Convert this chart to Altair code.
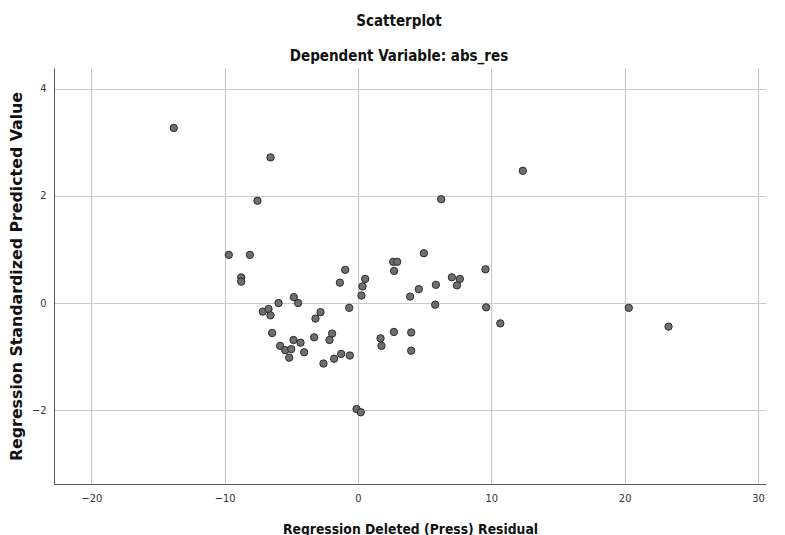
import altair as alt
import pandas as pd

# Regression Deleted (Press) Residual
press_residual = [
    -13.82, -6.56, -7.54, 6.24, 12.36, 4.94, 2.64, 2.94, 2.71, 9.56,
    7.04, 7.64, 7.42, 5.84, 4.56, 3.91, 5.79, 9.61, 20.31, 10.67,
    23.29, 2.69, 3.99, 1.69, 1.76, 3.99, -9.69, -8.11, -8.76, -8.76,
    -5.96, -4.81, -4.49, -7.14, -6.71, -6.56, -6.44, -5.84, -5.46, -5.01,
    -5.16, -4.84, -4.31, -4.04, -3.29, -3.19, -2.81, -1.94, -2.14, -2.59,
    -1.79, -1.26, -0.61, -0.66, -1.36, -0.96, 0.54, 0.34, 0.26, -0.11,
    0.21,
]
# Regression Standardized Predicted Value
std_predicted = [
    3.27, 2.72, 1.91, 1.94, 2.47, 0.93, 0.77, 0.77, 0.60, 0.63,
    0.48, 0.45, 0.33, 0.34, 0.26, 0.12, -0.03, -0.08, -0.09, -0.38,
    -0.44, -0.54, -0.55, -0.66, -0.80, -0.89, 0.90, 0.90, 0.48, 0.40,
    0.00, 0.11, 0.00, -0.16, -0.11, -0.23, -0.56, -0.80, -0.88, -0.86,
    -1.02, -0.69, -0.74, -0.92, -0.64, -0.29, -0.17, -0.57, -0.69, -1.13,
    -1.04, -0.95, -0.98, -0.09, 0.38, 0.62, 0.45, 0.31, 0.14, -1.98,
    -2.04,
]

x_ticks = [-20, -10, 0, 10, 20, 30]
y_ticks = [-2, 0, 2, 4]

df = pd.DataFrame({"press": press_residual, "pred": std_predicted})

COND = "DejaVu Sans Condensed, DejaVu Sans, sans-serif"

chart = (
    alt.Chart(df)
    .mark_point(filled=True, shape="circle", size=54, fill="#6f6f6f",
                stroke="#2a2a2a", strokeWidth=1, opacity=1)
    .encode(
        x=alt.X("press:Q",
                scale=alt.Scale(domain=[-22.8, 30.6], nice=False, zero=False),
                axis=alt.Axis(values=x_ticks, title="Regression Deleted (Press) Residual",
                              titleFont=COND, titleFontSize=13.8, titleFontWeight="bold",
                              titleColor="#111", titlePadding=19,
                              labelFont=COND, labelFontSize=11, labelColor="#333",
                              labelPadding=8, ticks=False, format="d")),
        y=alt.Y("pred:Q",
                scale=alt.Scale(domain=[-3.38, 4.39], nice=False, zero=False),
                axis=alt.Axis(values=y_ticks, title="Regression Standardized Predicted Value",
                              titleFont="DejaVu Sans", titleFontSize=15.8, titleFontWeight="bold",
                              titleColor="#111", titleX=-30, titleY=208,
                              labelFont=COND, labelFontSize=11, labelColor="#333",
                              labelPadding=8, ticks=False, format="d")),
    )
    .properties(
        width=712, height=416,
        title=alt.TitleParams(
            "Scatterplot",
            subtitle="Dependent Variable: abs_res",
            font=COND, fontSize=15, fontWeight="bold", color="#111",
            subtitleFont=COND, subtitleFontSize=15, subtitleFontWeight="bold",
            subtitleColor="#111", subtitlePadding=20, offset=4, dx=-11,
            anchor="middle",
        ),
        padding={"left": 0, "top": 6, "right": 5, "bottom": 0},
    )
    .configure_view(stroke=None)
    .configure_axis(gridColor="#cacaca", gridWidth=1.2, domainColor="#555", domainWidth=1)
)

chart.save("out.html", embed_options={"renderer": "svg", "actions": False})
